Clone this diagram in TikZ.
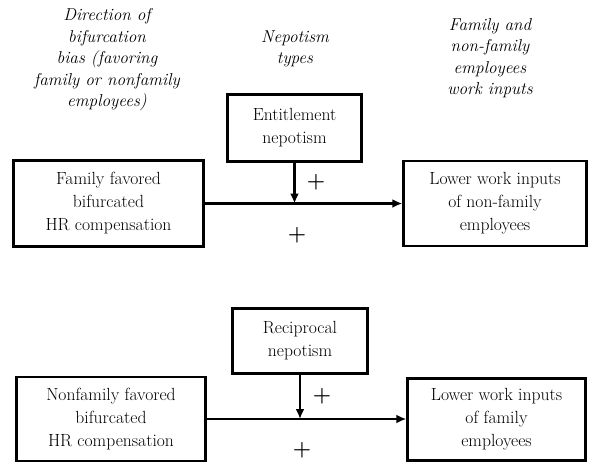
\documentclass[tikz,border=0pt]{standalone}
\usetikzlibrary{arrows.meta}
\begin{document}
\begin{tikzpicture}[x=1pt,y=-1pt,
  box/.style={draw,line width=2.4pt,inner sep=0pt,align=center,
    font=\fontsize{17.6}{23}\selectfont},
  head/.style={align=center,font=\itshape\fontsize{17.2}{21.5}\selectfont},
  link/.style={line width=2.6pt,-{Latex[length=10pt,width=9pt]}},
  sign/.style={font=\bfseries\fontsize{21}{21}\selectfont}]
\useasboundingbox (0,0) rectangle (589,464);

% column headings
\node[head] (h1) at (107,60) {Direction of\\bifurcation\\bias (favoring\\family or nonfamily\\employees)};
\node[head] (h2) at (295,49) {Nepotism\\types};
\node[head] (h3) at (490,58) {Family and\\non-family\\employees\\work inputs};

% upper model: entitlement nepotism
\node[box,minimum width=190pt,minimum height=86pt] (fam) at (108.5,203.5)
  {Family favored\\bifurcated\\HR compensation};
\node[box,minimum width=134pt,minimum height=67pt] (ent) at (294.5,128)
  {Entitlement\\nepotism};
\node[box,minimum width=183pt,minimum height=85pt] (low1) at (495,203.5)
  {Lower work inputs\\of non-family\\employees};
\draw[link] (fam.east) -- (fam.east -| low1.west);
\draw[link] (ent.south) -- (ent.south |- fam.east);
\node[sign] (p1) at (316,182) {+};
\node[sign] (p2) at (297,235) {+};

% lower model: reciprocal nepotism
\node[box,minimum width=189pt,minimum height=84pt] (nonfam) at (111,419)
  {Nonfamily favored\\bifurcated\\HR compensation};
\node[box,minimum width=135pt,minimum height=65pt] (rec) at (300,341)
  {Reciprocal\\nepotism};
\node[box,minimum width=178pt,minimum height=82pt] (low2) at (496.5,419.5)
  {Lower work inputs\\of family\\employees};
\draw[link] (nonfam.east) -- (nonfam.east -| low2.west);
\draw[link] (rec.south) -- (rec.south |- nonfam.east);
\node[sign] (p3) at (322,396) {+};
\node[sign] (p4) at (302,450) {+};
\end{tikzpicture}
\end{document}
